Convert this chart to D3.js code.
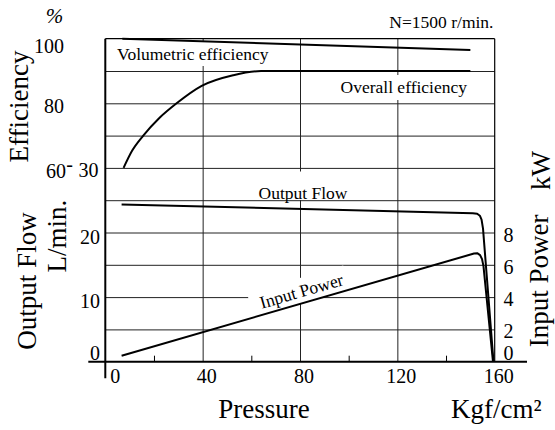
<!DOCTYPE html>
<html><head><meta charset="utf-8">
<script src="https://cdn.jsdelivr.net/npm/d3@7"></script>
<style>
body{margin:0;background:#fff}
svg{display:block}
text{font-family:"Liberation Serif","Times New Roman",serif;fill:#000}
</style>
</head><body><svg id="c" width="555" height="430"></svg>
<script>
// ---- data ----
const pressureTicks = [0, 40, 80, 120, 160];
const pressureMinorTicks = [20, 60, 100, 140];
const efficiencyTicks = [100, 80, 60];
const flowTicks = [30, 20, 10, 0];
const powerTicks = [8, 6, 4, 2, 0];
const gridFlowLines = [5, 10, 15, 20, 25, 30, 35, 40, 45];
const gridPressureLines = [40, 80, 120];

const volEffPressure = [7, 150];
const volEffValues = [100, 96.5];
const overallPressure = [7.5, 11, 15.6, 22, 29.3, 39.6, 52.6, 64, 150];
const overallValues = [60, 65.3, 70, 75.3, 80, 85.4, 88.7, 90, 90];
const flowPressure = [6.7, 151, 152.8, 153.9, 154.6, 155.2, 159.5];
const flowValues = [24.35, 22.97, 22.9, 22.6, 22.0, 20.6, 0];
const powerPressure = [6.7, 151.5, 152.8, 154.0, 154.8, 155.4, 159.3];
const powerValues = [0.37, 6.70, 6.72, 6.6, 6.35, 5.9, 0];

// ---- scales ----
const svg = d3.select('#c');
svg.append('rect').attr('width', 555).attr('height', 430).attr('fill', '#fff');
const x = d3.scaleLinear().domain([0, 160]).range([105.3, 494.7]);
const yFlow = d3.scaleLinear().domain([0, 50]).range([361.7, 38.7]);
const yEff = d3.scaleLinear().domain([60, 100]).range([yFlow(30), yFlow(50)]);
const yPow = d3.scaleLinear().domain([0, 10]).range([yFlow(0), yFlow(25)]);
const plotW = x(160) - x(0), plotH = yFlow(0) - yFlow(50);

// ---- grid ----
const gH = svg.append('g').attr('transform', `translate(${x(0)},0)`)
  .call(d3.axisLeft(yFlow).tickValues(gridFlowLines).tickSize(-plotW).tickFormat(''));
gH.select('.domain').remove();
gH.selectAll('line').attr('stroke', '#222').attr('stroke-width', 1);
const gV = svg.append('g').attr('transform', `translate(0,${yFlow(0)})`)
  .call(d3.axisBottom(x).tickValues(gridPressureLines).tickSize(-plotH).tickFormat(''));
gV.select('.domain').remove();
gV.selectAll('line').attr('stroke', '#222').attr('stroke-width', 1);

// border top and right
svg.append('line').attr('x1', x(0)).attr('x2', x(160)).attr('y1', yFlow(50)).attr('y2', yFlow(50)).attr('stroke', '#000').attr('stroke-width', 1.2);
svg.append('line').attr('x1', x(160)).attr('x2', x(160)).attr('y1', yFlow(50)).attr('y2', yFlow(0)).attr('stroke', '#000').attr('stroke-width', 1.2);

// ---- in-plot labels with white background ----
function boxedLabel(txt, px, py, anchor, padT, padB, padL, padR) {
  const g = svg.append('g');
  const r = g.append('rect').attr('fill', '#fff');
  const t = g.append('text').attr('x', px).attr('y', py).attr('text-anchor', anchor)
    .attr('font-size', 17.5).text(txt);
  const b = t.node().getBBox();
  r.attr('x', b.x - padL).attr('y', b.y - padT).attr('width', b.width + padL + padR).attr('height', b.height + padT + padB);
  return g;
}
boxedLabel('Volumetric efficiency', 117, 60, 'start', 2, 2, 2, 4);
boxedLabel('Overall efficiency', 467, 93, 'end', 2, 3, 3, 3);
boxedLabel('Output Flow', 258.5, 198.5, 'start', 11, -2.5, 1, 1);

// Input Power label along the power line
const pA = [x(powerPressure[0]), yPow(powerValues[0])];
const pB = [x(powerPressure[1]), yPow(powerValues[1])];
const tFrac = (65 - powerPressure[0]) / (powerPressure[1] - powerPressure[0]);
const p0 = [pA[0] + (pB[0] - pA[0]) * tFrac, pA[1] + (pB[1] - pA[1]) * tFrac];
const ang = Math.atan2(pB[1] - pA[1], pB[0] - pA[0]) * 180 / Math.PI;
const ipg = svg.append('g').attr('transform', `translate(${p0[0]},${p0[1]}) rotate(${ang})`);
const iprect = ipg.append('rect').attr('fill', '#fff');
const ipt = ipg.append('text').attr('x', 0).attr('y', -6).attr('font-size', 17.5).text('Input Power');
const ib = ipt.node().getBBox();
iprect.attr('x', -10).attr('y', ib.y - 3).attr('width', ib.width + 14).attr('height', -(ib.y - 3));

// ---- axes ----
svg.append('line').attr('x1', x(0)).attr('x2', x(0)).attr('y1', yFlow(50)).attr('y2', 378.3)
  .attr('stroke', '#000').attr('stroke-width', 2);
svg.append('line').attr('x1', 88.3).attr('x2', 527).attr('y1', yFlow(0)).attr('y2', yFlow(0))
  .attr('stroke', '#000').attr('stroke-width', 2);
const gMinor = svg.append('g').attr('transform', `translate(0,${yFlow(0)})`)
  .call(d3.axisTop(x).tickValues(pressureMinorTicks).tickSize(6).tickFormat(''));
gMinor.select('.domain').remove();
gMinor.selectAll('line').attr('stroke', '#000').attr('stroke-width', 1);

// ---- curves ----
function drawCurve(px, vals, yS, curve) {
  const pts = px.map((p, i) => [x(p), yS(vals[i])]);
  svg.append('path').attr('d', d3.line().curve(curve)(pts))
    .attr('fill', 'none').attr('stroke', '#000').attr('stroke-width', 2).attr('stroke-linejoin', 'round');
}
drawCurve(volEffPressure, volEffValues, yEff, d3.curveLinear);
drawCurve(overallPressure, overallValues, yEff, d3.curveMonotoneX);
drawCurve(flowPressure, flowValues, yFlow, d3.curveLinear);
drawCurve(powerPressure, powerValues, yPow, d3.curveLinear);

// ---- tick labels ----
const fs = 20;
svg.selectAll('.te').data(efficiencyTicks).enter().append('text')
  .attr('x', d => d === 60 ? 66 : 64).attr('y', d => yEff(d) + (d === 100 ? 14.5 : 10))
  .attr('text-anchor', 'end').attr('font-size', fs).text(d => d);
svg.append('text').attr('x', 69.5).attr('y', yEff(60) + 3.5).attr('text-anchor', 'middle').attr('font-size', fs).text('-');
svg.selectAll('.tf').data(flowTicks).enter().append('text')
  .attr('x', d => d === 30 ? 98.5 : 100).attr('y', d => d === 0 ? yFlow(d) - 1.7 : yFlow(d) + (d === 30 ? 9.5 : 11))
  .attr('text-anchor', 'end').attr('font-size', fs).text(d => d);
svg.selectAll('.tp').data(powerTicks).enter().append('text')
  .attr('x', 503.5).attr('y', d => d === 0 ? yPow(d) - 1.7 : yPow(d) + 9)
  .attr('text-anchor', 'start').attr('font-size', fs).text(d => d);
svg.selectAll('.tx').data(pressureTicks).enter().append('text')
  .attr('x', d => x(d) + (d === 0 ? 10 : 4)).attr('y', 383.3)
  .attr('text-anchor', 'middle').attr('font-size', fs).text(d => d);

// ---- titles ----
const tfs = 27;
svg.append('text').attr('x', 54.5).attr('y', 23).attr('text-anchor', 'middle').attr('font-size', 21).attr('font-style', 'italic').text('%');
svg.append('text').attr('transform', 'translate(28,106.5) rotate(-90)').attr('text-anchor', 'middle').attr('font-size', tfs).text('Efficiency');
svg.append('text').attr('transform', 'translate(36,281) rotate(-90)').attr('text-anchor', 'middle').attr('font-size', tfs).text('Output Flow');
svg.append('text').attr('transform', 'translate(66,236) rotate(-90)').attr('text-anchor', 'middle').attr('font-size', tfs).text('L/min.');
svg.append('text').attr('transform', 'translate(550,170.5) rotate(-90)').attr('text-anchor', 'middle').attr('font-size', tfs).text('kW');
svg.append('text').attr('transform', 'translate(548,281) rotate(-90)').attr('text-anchor', 'middle').attr('font-size', tfs).text('Input Power');
svg.append('text').attr('x', 264).attr('y', 418).attr('text-anchor', 'middle').attr('font-size', tfs).text('Pressure');
svg.append('text').attr('x', 451).attr('y', 418).attr('text-anchor', 'start').attr('font-size', tfs).text('Kgf/cm²');
svg.append('text').attr('x', 493.5).attr('y', 28.3).attr('text-anchor', 'end').attr('font-size', 17.5).text('N=1500 r/min.');
</script>
</body></html>
